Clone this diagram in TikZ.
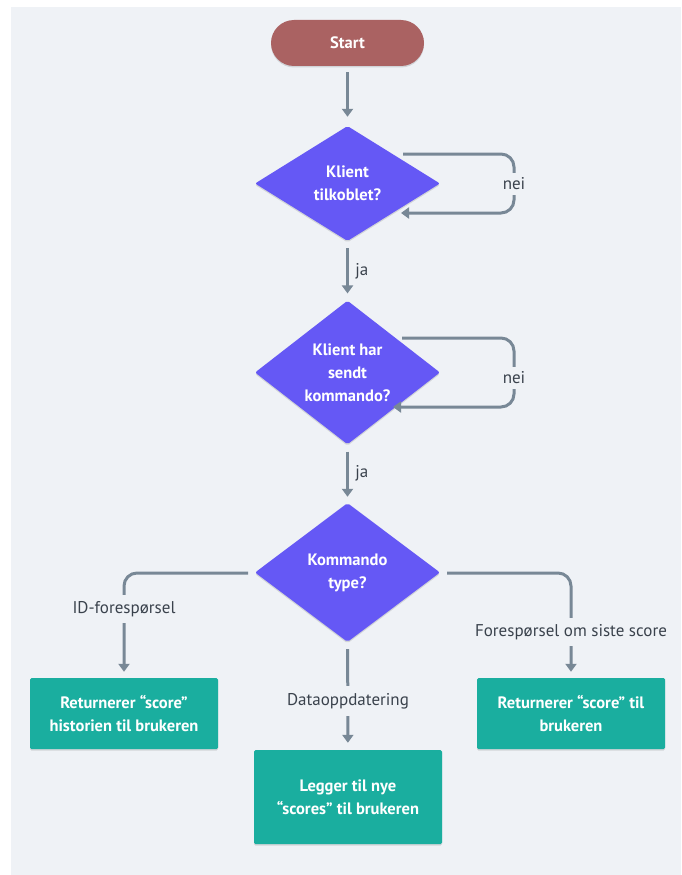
\documentclass[tikz,border=0pt]{standalone}
\usepackage{fontspec}
\setmainfont{PT Sans}
\usetikzlibrary{shapes.geometric,arrows.meta,calc,shadows}

\definecolor{panel}{HTML}{EFF2F6}
\definecolor{startred}{HTML}{AA6262}
\definecolor{decision}{HTML}{6558F5}
\definecolor{action}{HTML}{1AAE9F}
\definecolor{wire}{HTML}{788896}
\definecolor{labeltext}{HTML}{3A424C}

\tikzset{
  x=1pt, y=-1pt,
  soft/.style={drop shadow={shadow xshift=0pt, shadow yshift=-1.5pt, opacity=0.12, fill=black}},
  terminal/.style={draw=none, fill=startred, rounded corners=23pt, minimum width=153pt,
    minimum height=46pt, text=white, font=\bfseries\fontsize{16.5}{23}\selectfont, soft},
  decide/.style={diamond, draw=none, fill=decision, rounded corners=2pt, inner sep=0pt,
    text=white, align=center, font=\bfseries\fontsize{16.5}{23}\selectfont, soft},
  act/.style={draw=none, fill=action, rounded corners=1.5pt, text=white, align=center,
    font=\bfseries\fontsize{16.5}{23}\selectfont, soft},
  wireline/.style={draw=wire, line width=3pt},
  flow/.style={wireline, -{Triangle[length=8pt,width=11pt]}},
  tagfont/.style={text=labeltext, font=\fontsize{17}{20}\selectfont},
  tag/.style={fill=panel, tagfont, inner sep=2pt},
}

\begin{document}
\begin{tikzpicture}
  % background panel
  \useasboundingbox (0,0) rectangle (681,875);
  \fill[white] (0,0) rectangle (681,875);
  \fill[panel] (11,7) rectangle (681,875);

  % nodes
  \node[terminal] (start) at (347.5,43) {Start};
  \node[decide, minimum width=185pt, minimum height=115pt] (d1) at (347.5,183.5) {Klient\\tilkoblet?};
  \node[decide, minimum width=185pt, minimum height=139pt] (d2) at (347.5,372.5) {Klient har\\sendt\\kommando?};
  \node[decide, minimum width=185pt, minimum height=139pt] (d3) at (347.5,572.5) {Kommando\\type?};

  \node[act, minimum width=188pt, minimum height=71pt] (bl) at (124,713.5) {Returnerer “score”\\historien til brukeren};
  \node[act, minimum width=188pt, minimum height=94pt] (bm) at (348,797) {Legger til nye\\“scores” til brukeren};
  \node[act, minimum width=188pt, minimum height=71pt] (br) at (571,713.5) {Returnerer “score” til\\brukeren};

  % straight flow
  \draw[flow, shorten <=6pt, shorten >=9pt] (start) -- (d1);
  \draw[flow, shorten <=7pt, shorten >=7pt] (d1) -- node[right, tagfont, xshift=3pt] {ja} (d2);
  \draw[flow, shorten <=7pt, shorten >=6pt] (d2) -- node[right, tagfont, xshift=3pt] {ja} (d3);

  % waiting loops
  \coordinate (l1a) at (403,154);
  \coordinate (l1b) at (514,154);
  \coordinate (l1c) at (514,213);
  \coordinate (l1d) at (401,213);
  \draw[flow, rounded corners=13pt] (l1a) -- (l1b) -- (l1c) -- (l1d);
  \node[tag, inner ysep=5pt] (nei1) at (514,184) {nei};

  \coordinate (l2a) at (402,338);
  \coordinate (l2b) at (514,338);
  \coordinate (l2c) at (514,407);
  \coordinate (l2d) at (393,407);
  \draw[flow, rounded corners=13pt] (l2a) -- (l2b) -- (l2c) -- (l2d);
  \node[tag, inner ysep=5pt] (nei2) at (514,378) {nei};

  % branches of the command type
  \coordinate (lb1) at (248,573);
  \coordinate (lb2) at (124,573);
  \draw[flow, rounded corners=13pt, shorten >=6pt] (lb1) -- (lb2) -- (bl.north);
  \node[tag, inner ysep=6pt] (lid) at (124,609) {ID-forespørsel};

  \coordinate (rb1) at (447,573);
  \coordinate (rb2) at (571,573);
  \draw[flow, rounded corners=13pt, shorten >=6pt] (rb1) -- (rb2) -- (br.north);
  \node[tag, inner ysep=6pt] (lsiste) at (571,632) {Forespørsel om siste score};

  \draw[flow, shorten <=7pt, shorten >=7pt] (d3) -- (bm);
  \node[tag, inner ysep=7pt] (ldata) at (348,701) {Dataoppdatering};
\end{tikzpicture}
\end{document}
